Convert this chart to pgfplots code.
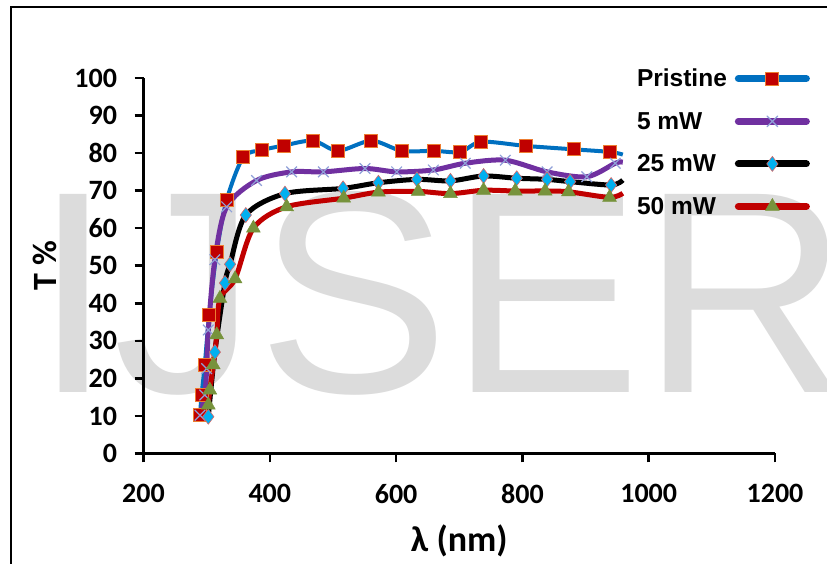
\documentclass[border=0pt]{standalone}
\usepackage{fontspec}
\setmainfont{Carlito}
\newfontfamily\arialfont{Liberation Sans}
\usepackage{pgfplots}
\pgfplotsset{compat=1.18}

\definecolor{pblue}{RGB}{0,112,192}
\definecolor{pred}{RGB}{192,0,0}
\definecolor{porange}{RGB}{237,125,49}
\definecolor{ppurple}{RGB}{112,48,160}
\definecolor{plav}{RGB}{143,160,216}
\definecolor{pcyan}{RGB}{0,176,240}
\definecolor{pgreen}{RGB}{119,147,60}
\definecolor{wmgray}{RGB}{220,220,220}

% wavelength (nm) vs transmittance (%)
\pgfplotstableread{
x y
289.5 10.3
292 15.6
297 23.6
304 36.9
316 53.7
331.7 67.5
358 78.9
387.8 80.8
422 82
468.5 83.3
508 80.6
560.8 83.3
609 80.6
660.4 80.6
701.6 80.3
735 83
806 81.9
881 81
939 80.3
959 79.6
}\pristine
\pgfplotstableread{
x y
289.5 10.2
297 15.6
300 22.6
302.6 32.9
313 51.6
331.7 65.7
379 72.7
434.7 75
484.7 75
550.7 75.9
601 75
659 75.5
709.5 77.3
773 78.1
839 75
902 73.7
947 77.3
959 77.6
}\fivemw
\pgfplotstableread{
x y
302.6 9.8
313 27
329 45.4
337 50.4
362 63.5
424 69.2
516 70.6
572 72.1
633 73
686 72.6
738.5 73.9
791 73.3
839 73
875.6 72.4
940.5 71.5
959 72.8
}\twentyfivemw
\pgfplotstableread{
x y
302.6 12.9
305 16.9
310.5 23.6
316 31.6
321 41.3
345 46.5
374 60
426.7 65.7
517 68
572 69.6
635 69.8
686 69.2
738.5 70.1
788.6 69.9
836 69.9
873 69.7
938 68.2
959 69.3
}\fiftymw

\begin{document}
\begin{tikzpicture}
\useasboundingbox (0pt,0pt) rectangle (827pt,564pt);
\node[anchor=base west, inner sep=0pt, text=wmgray,
  font=\arialfont\fontsize{288}{300}\selectfont] at (33pt,171pt) {IJSER};
\begin{scope}
\clip (0pt,0pt) rectangle (827pt,564pt);
\draw[line width=2pt] (11pt,557pt) rectangle (900pt,-20pt);
\end{scope}
\begin{axis}[
  at={(143.5pt,110.5pt)}, anchor=south west,
  scale only axis, width=631.5pt, height=375.5pt,
  xmin=200, xmax=1200, ymin=0, ymax=100,
  xtick={200,400,...,1200}, ytick={0,10,...,100},
  axis x line*=bottom, axis y line*=left,
  axis line style={-, line width=2.5pt},
  tick align=outside, major tick length=9pt,
  tick style={line width=2.5pt, black},
  minor tick num=0,
  /pgf/number format/assume math mode=true,
  /pgf/number format/1000 sep={},
  tick label style={font=\fontsize{28}{32}\selectfont\bfseries},
  xticklabel style={yshift=-18pt},
  yticklabel style={xshift=-14pt},
  xlabel={λ (nm)},
  ylabel={T \%},
  xlabel style={font=\fontsize{36}{40}\selectfont\bfseries,
    at={(axis description cs:0.5,-0.233)}, anchor=center},
  ylabel style={font=\fontsize{34}{38}\selectfont\bfseries,
    at={(axis description cs:-0.156,0.5)}, anchor=center},
  clip=false,
  legend plot pos=right,
  legend cell align=left,
  legend image code/.code={
    \draw[#1, mark indices={2}, line width=7pt, line cap=round]
      plot coordinates {(3pt,0pt) (37pt,0pt) (71pt,0pt)};},
  legend style={at={(rel axis cs:0.778,1.03)}, anchor=north west,
    draw=none, fill=none, inner sep=0pt, row sep=20pt, column sep=6pt,
    font=\arialfont\bfseries\fontsize{24.5}{28}\selectfont},
]
\addplot[pblue, line width=4pt, smooth, mark=square*, mark size=6.5pt,
  mark indices={1,...,19},
  mark options={fill=pred, draw=porange, line width=1pt, solid}]
  table {\pristine};
\addlegendentry{Pristine}
\addplot[ppurple, line width=5pt, smooth, mark=x, mark size=7.5pt,
  mark indices={1,...,17},
  mark options={draw=plav, line width=1.2pt, solid}]
  table {\fivemw};
\addlegendentry{5 mW}
\addplot[black, line width=5pt, smooth, mark=diamond*, mark size=7.5pt,
  mark indices={1,...,15},
  mark options={fill=pcyan, draw=pred!60, line width=0.6pt, solid}]
  table {\twentyfivemw};
\addlegendentry{25 mW}
\addplot[pred, line width=5pt, smooth, mark=triangle*, mark size=8pt,
  mark indices={1,...,17},
  mark options={fill=pgreen, draw=pgreen, line width=0.5pt, solid}]
  table {\fiftymw};
\addlegendentry{50 mW}
\end{axis}
\end{tikzpicture}
\end{document}
